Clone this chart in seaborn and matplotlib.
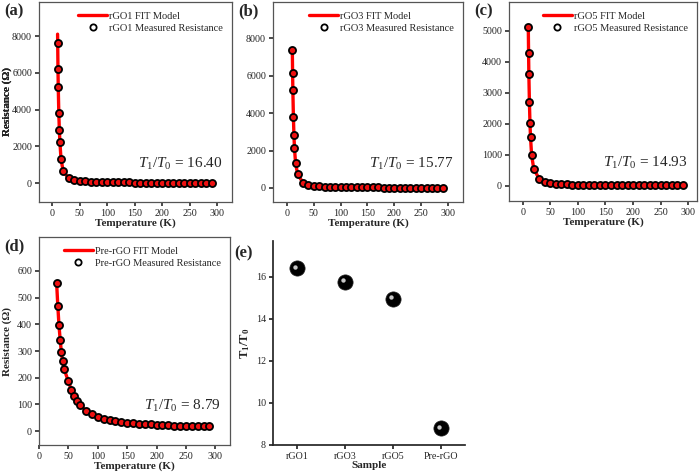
import numpy as np
import pandas as pd
import matplotlib.pyplot as plt
import matplotlib.transforms as mtransforms
from matplotlib.lines import Line2D
import seaborn as sns

# temperatures (K)
temp_tail = [30, 40, 50, 60, 70, 80, 90, 100, 110, 120, 130, 140, 150, 160, 170,
             180, 190, 200, 210, 220, 230, 240, 250, 260, 270, 280, 290]
temp_low = [10, 10.5, 11, 12, 13, 14, 16, 20]
temp_rgo = temp_low + temp_tail

# measured resistance (ohm)
res_rgo1 = [7600, 6230, 5240, 3820, 2880, 2250, 1310, 650,
            260, 165, 115, 88, 72, 60, 52, 46, 41, 37, 34, 31, 29, 27, 25, 24,
            23, 22, 21, 20, 19, 18.5, 18, 17.5, 17, 16.5, 16]
res_rgo3 = [7400, 6160, 5230, 3815, 2825, 2135, 1340, 725,
            280, 165, 118, 90, 73, 61, 53, 47, 42, 38, 35, 32, 30, 28, 26, 25,
            24, 23, 22, 21, 20, 19.5, 19, 18.5, 18, 17.5, 17]
res_rgo5 = [5120, 4300, 3615, 2720, 2045, 1585, 1000, 540,
            230, 140, 100, 78, 64, 54, 47, 42, 38, 35, 32, 30, 28, 26, 25, 24,
            23, 22, 21, 20, 19.5, 19, 18.5, 18, 17.5, 17, 16.5]

temp_pre = [30, 32, 34, 36, 38, 40, 43, 50, 55, 60, 65, 70, 80, 90, 100, 110, 120,
            130, 140, 150, 160, 170, 180, 190, 200, 210, 220, 230, 240, 250, 260,
            270, 280, 290]
res_pre = [555, 469, 396, 343, 297, 263, 231, 186, 155, 130, 111, 97, 77, 63, 54,
           47, 42, 38, 35, 32, 30, 28, 26.5, 25, 24, 23, 22, 21, 20, 19.5, 19,
           18.5, 18, 17.5]

# fit curve starts a touch before the first measurement
fit_start_temp = [9.8, 9.9, 9.8]
fit_start_res = [8100, 7450, 5150]

samples = ["rGO1", "rGO3", "rGO5", "Pre-rGO"]
t1_t0 = [16.40, 15.77, 14.93, 8.79]

sns.set_theme(style="ticks")
plt.rcParams["font.family"] = ["Liberation Serif", "DejaVu Serif"]
plt.rcParams["mathtext.fontset"] = "custom"
plt.rcParams["mathtext.rm"] = "Liberation Serif"
plt.rcParams["mathtext.it"] = "Liberation Serif:italic"
plt.rcParams["mathtext.bf"] = "Liberation Serif:bold"
plt.rcParams["xtick.labelsize"] = 7.2
plt.rcParams["ytick.labelsize"] = 7.2
plt.rcParams["xtick.major.size"] = 3
plt.rcParams["ytick.major.size"] = 3

fig = plt.figure(figsize=(7, 4.72), dpi=100)
W, H = 700, 472


def box(l, t, r, b):
    return [l / W, (H - b) / H, (r - l) / W, (b - t) / H]


panels = [
    ("(a)", "rGO1", temp_rgo, res_rgo1, 0, box(39, 2, 232, 202),
     (-24, 327), (-1030, 9850), [0, 2000, 4000, 6000, 8000], "16.40"),
    ("(b)", "rGO3", temp_rgo, res_rgo3, 1, box(273, 2, 463, 202),
     (-26, 328), (-750, 9950), [0, 2000, 4000, 6000, 8000], "15.77"),
    ("(c)", "rGO5", temp_rgo, res_rgo5, 2, box(509, 2, 697, 201),
     (-25, 316), (-484, 5935), [0, 1000, 2000, 3000, 4000, 5000], "14.93"),
    ("(d)", "Pre-rGO", temp_pre, res_pre, None, box(39, 237, 230, 445),
     (0, 325), (-52, 727), [0, 100, 200, 300, 400, 500, 600], "8.79"),
]

for tag, name, tt, rr, fi, rect, xl, yl, yt, ratio in panels:
    ax = fig.add_axes(rect)
    df = pd.DataFrame({"T": tt, "R": rr})
    if fi is not None:
        fit = pd.DataFrame({"T": [fit_start_temp[fi]] + tt,
                            "R": [fit_start_res[fi]] + rr})
    else:
        fit = df
    sns.lineplot(data=fit, x="T", y="R", ax=ax, color="#ff0000", lw=2.4,
                 sort=True, estimator=None)
    # red shows through the open circles in the original
    sns.scatterplot(data=df, x="T", y="R", ax=ax, s=26, facecolor="#ee1111",
                    edgecolor="black", linewidth=1.3, zorder=3)
    ax.set_xlim(*xl)
    ax.set_ylim(*yl)
    ax.set_xticks([0, 50, 100, 150, 200, 250, 300])
    ax.set_yticks(yt)
    ax.set_xlabel("Temperature (K)", fontsize=8, fontweight="bold", labelpad=0)
    ax.set_ylabel("Resistance (Ω)", fontsize=8, fontweight="bold")
    ax.yaxis.set_label_coords(-(rect[0] * W - 12) / (rect[2] * W), 0.5)
    for s in ax.spines.values():
        s.set_color("#555555")
        s.set_linewidth(0.9)
    ax.tick_params(pad=2, colors="#333333", labelcolor="#222222")
    handles = [Line2D([], [], color="#ff0000", lw=2.4),
               Line2D([], [], ls="none", marker="o", mfc="none", mec="black",
                      mew=1.3, ms=4.5)]
    ax.legend(handles, [f"{name} FIT Model", f"{name} Measured Resistance"],
              loc="upper right", frameon=False, fontsize=7.5, handlelength=2.8,
              handletextpad=0.15, borderaxespad=0.7, borderpad=0.2,
              labelspacing=0.25)
    ax.text(0.95, 0.19, r"$\mathit{T_1/T_0}$ = " + ratio, transform=ax.transAxes,
            ha="right", va="center", fontsize=11)
    fig.text(rect[0] - 35 / W, rect[1] + rect[3] - 1 / H, tag, fontsize=12,
             fontweight="bold", ha="left", va="top")

# panel (e)
ax = fig.add_axes(box(273, 241, 465, 445))
dfe = pd.DataFrame({"Sample": samples, "ratio": t1_t0})
sns.scatterplot(data=dfe, x="Sample", y="ratio", ax=ax, s=120, color="black",
                edgecolor="#222222", linewidth=0.5, zorder=3)
shift = mtransforms.ScaledTranslation(-1.8 / 100, 1.8 / 100, fig.dpi_scale_trans)
sns.scatterplot(data=dfe, x="Sample", y="ratio", ax=ax, s=10, color="#c8c8c8",
                linewidth=0, zorder=4, transform=ax.transData + shift)
ax.set_xlim(-0.5, 3.5)
ax.set_ylim(8, 17.7)
ax.set_yticks([8, 10, 12, 14, 16])
ax.set_xlabel("Sample", fontsize=8, fontweight="bold", labelpad=0)
ax.set_ylabel(r"$\mathbf{T_1/T_0}$", fontsize=9, labelpad=3)
sns.despine(ax=ax)
ax.tick_params(pad=2)
fig.text(234 / W, (H - 245) / H, "(e)", fontsize=12, fontweight="bold",
         ha="left", va="top")

plt.savefig("out.png", dpi=100)
